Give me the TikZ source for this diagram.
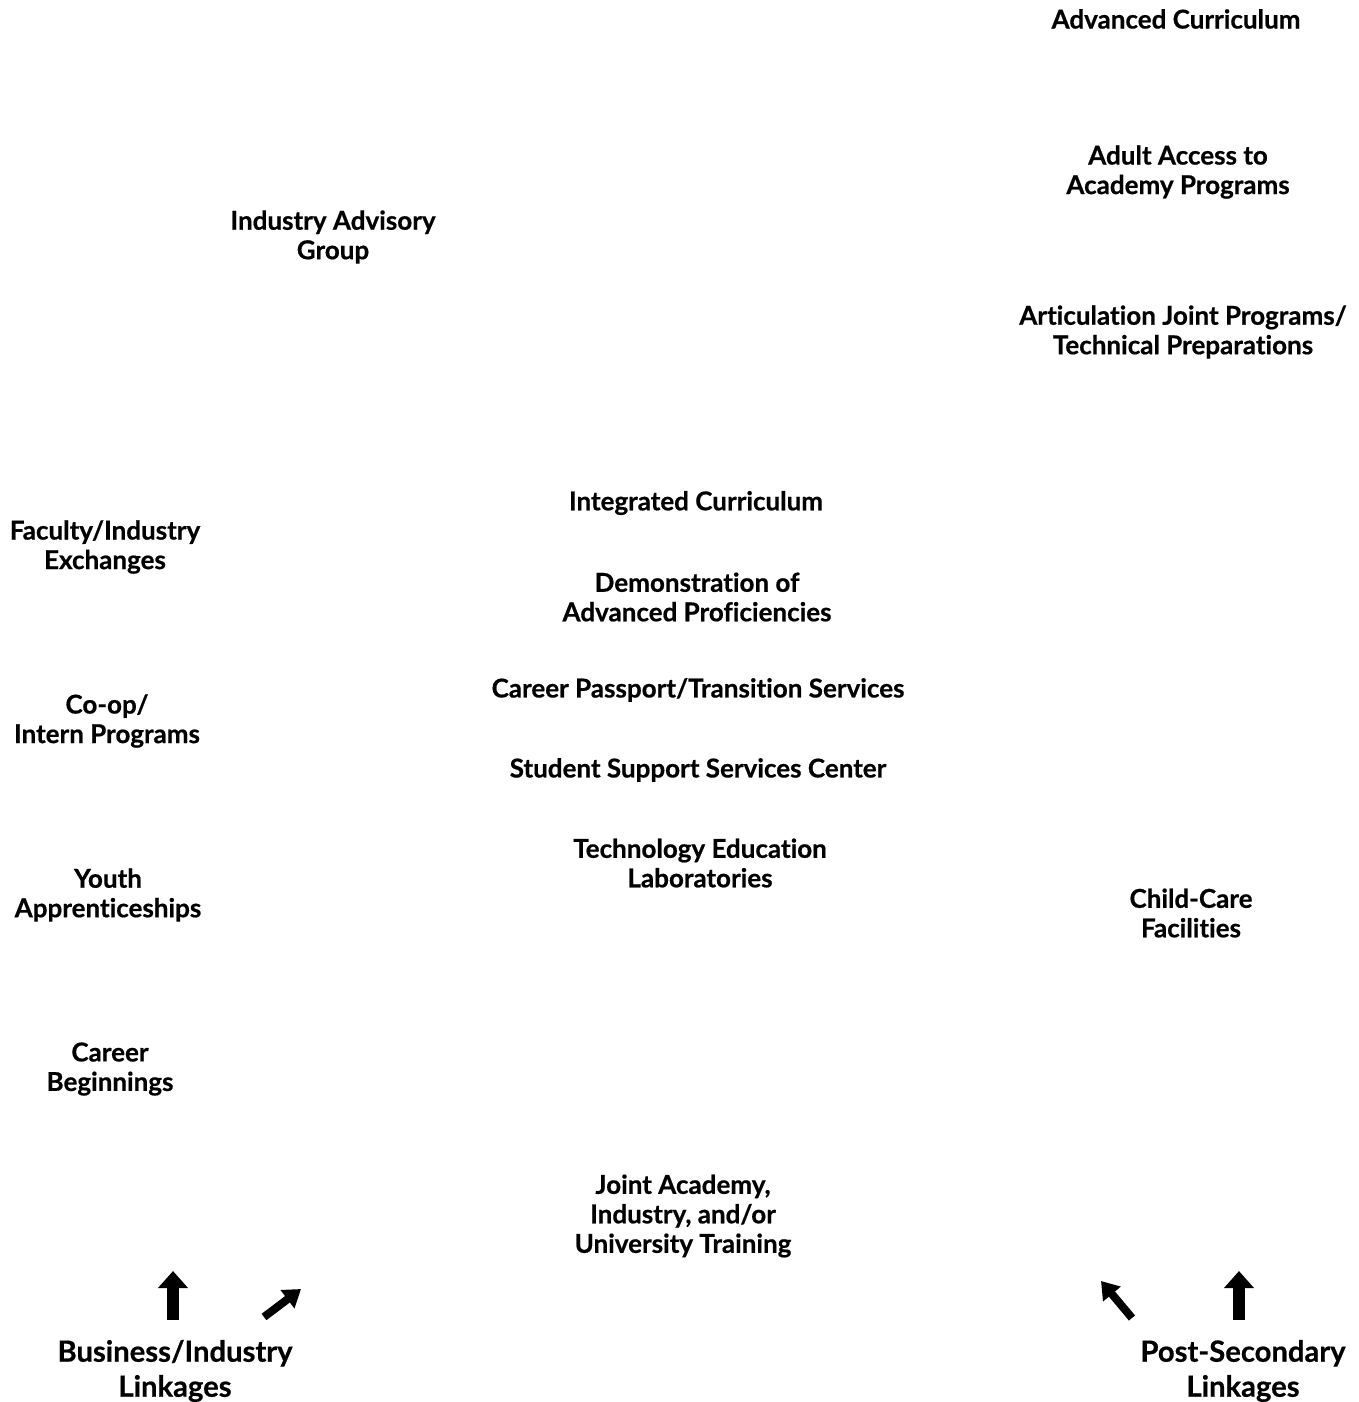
\documentclass[tikz,border=0pt]{standalone}
\usepackage{fontspec}
\setmainfont{Lato}[Ligatures=NoCommon, BoldFeatures={FakeBold=0.6}]
\usetikzlibrary{positioning,arrows.meta}

\begin{document}
\begin{tikzpicture}[
  x=1pt, y=-1pt,
  %% Node styles
  item/.style={
    align=center, inner sep=0pt,
    font=\fontsize{26}{29.5}\selectfont\bfseries
  },
  link/.style={
    align=center, inner sep=0pt,
    font=\fontsize{29.2}{35}\selectfont\bfseries
  },
  %% Arrow styles
  uparrow/.style={-{Triangle[width=29pt,length=17pt]}, line width=12pt},
  slantarrow/.style={-{Triangle[width=22pt,length=17pt]}, line width=8pt},
]

%% fixed page
\useasboundingbox (0,0) rectangle (1359,1402);

%% ── Post-secondary column ─────────────────────────────────────────────────
\node[item] (advcur) at (1176,19)  {Advanced Curriculum};
\node[item] (adult)  at (1178,172) {Adult Access to\\Academy Programs};
\node[item] (artic)  at (1183,332) {Articulation Joint Programs/\\Technical Preparations};
\node[item] (child)  at (1191,913) {Child-Care\\Facilities};

%% ── Industry column ───────────────────────────────────────────────────────
\node[item] (advis)  at (333,237)  {Industry Advisory\\Group};
\node[item] (facex)  at (105,547)  {Faculty/Industry\\Exchanges};
\node[item] (coop)   at (107,721)  {Co-op/\\Intern Programs};
\node[item] (youth)  at (108,895)  {Youth\\Apprenticeships};
\node[item] (begin)  at (110,1069) {Career\\Beginnings};

%% ── Academy core ──────────────────────────────────────────────────────────
\node[item] (integ)  at (696,503)  {Integrated Curriculum};
\node[item] (demo)   at (697,597)  {Demonstration of\\Advanced Proficiencies};
\node[item] (pass)   at (698,690)  {Career Passport/Transition Services};
\node[item] (supp)   at (698,770)  {Student Support Services Center};
\node[item] (techlab) at (700,863) {Technology Education\\Laboratories};
\node[item] (joint)  at (683,1216) {Joint Academy,\\Industry, and/or\\University Training};

%% ── Linkages ──────────────────────────────────────────────────────────────
\node[link] (bizlink)  at (175,1371)  {Business/Industry\\Linkages};
\node[link] (postlink) at (1243,1371) {Post-Secondary\\Linkages};

\coordinate (bizup0)   at (173,1320);
\coordinate (bizup1)   at (173,1271);
\coordinate (bizdiag0) at (264,1317);
\coordinate (bizdiag1) at (301,1289);
\coordinate (postup0)  at (1239,1320);
\coordinate (postup1)  at (1239,1271);
\coordinate (postdiag0) at (1132,1318);
\coordinate (postdiag1) at (1101,1281);

\draw[uparrow]    (bizup0)    -- (bizup1);
\draw[slantarrow] (bizdiag0)  -- (bizdiag1);
\draw[uparrow]    (postup0)   -- (postup1);
\draw[slantarrow] (postdiag0) -- (postdiag1);

\end{tikzpicture}
\end{document}
